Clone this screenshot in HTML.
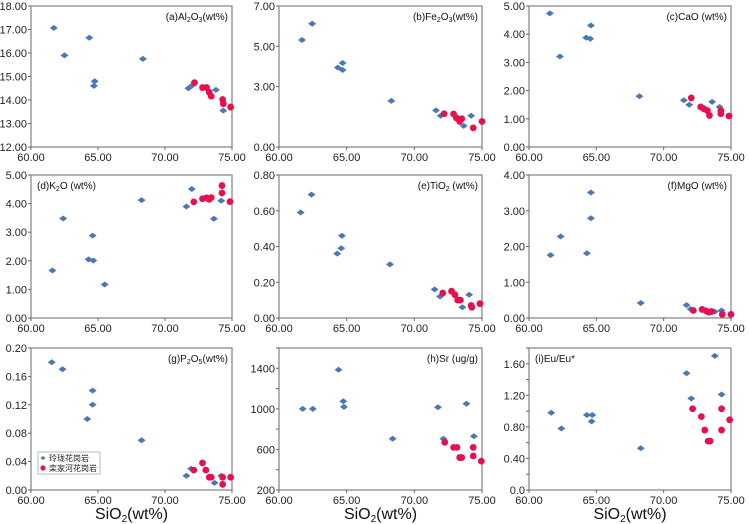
<!DOCTYPE html>
<html><head><meta charset="utf-8">
<style>
html,body{margin:0;padding:0;background:#fff;}
svg{display:block;font-family:"Liberation Sans","Noto Sans CJK SC",sans-serif;}
</style></head>
<body>
<svg id="c" width="749" height="524" viewBox="0 0 749 524" xmlns="http://www.w3.org/2000/svg"></svg>
<script>
const xTicks = [60, 65, 70, 75];
const xTickLabels = ["60.00","65.00","70.00","75.00"];

const aBlue = [[61.7,17.07],[62.5,15.9],[64.35,16.65],[64.75,14.8],[64.7,14.6],[68.35,15.75],[71.75,14.5],[72.05,14.63],[73.8,14.43],[74.35,13.55]];
const aRed = [[72.2,14.74],[72.8,14.53],[73.1,14.53],[73.3,14.33],[73.45,14.16],[74.3,14.02],[74.35,13.84],[74.9,13.7]];
const bBlue = [[61.7,5.31],[62.45,6.12],[64.35,3.94],[64.7,4.17],[64.7,3.82],[68.3,2.29],[71.6,1.82],[71.95,1.55],[73.65,1.05],[74.2,1.55]];
const bRed = [[72.2,1.65],[72.9,1.64],[73.1,1.45],[73.35,1.27],[73.5,1.4],[74.35,0.95],[75.0,1.27]];
const cBlue = [[61.55,4.74],[62.3,3.21],[64.25,3.88],[64.55,3.84],[64.6,4.31],[68.2,1.8],[71.5,1.66],[71.9,1.5],[73.6,1.6],[74.15,1.42]];
const cRed = [[72.05,1.74],[72.75,1.42],[73.0,1.35],[73.25,1.29],[73.4,1.12],[74.25,1.29],[74.25,1.18],[74.85,1.1]];
const dBlue = [[61.6,1.66],[62.4,3.48],[64.3,2.05],[64.65,2.01],[64.6,2.88],[65.5,1.17],[68.25,4.12],[71.6,3.9],[72.0,4.51],[73.65,3.47],[74.2,4.1]];
const dRed = [[72.15,4.06],[72.8,4.17],[73.1,4.2],[73.3,4.15],[73.45,4.21],[74.25,4.63],[74.25,4.37],[74.85,4.07]];
const eBlue = [[61.6,0.59],[62.4,0.69],[64.3,0.36],[64.6,0.39],[64.65,0.46],[68.2,0.3],[71.5,0.16],[71.9,0.12],[73.55,0.06],[74.05,0.13]];
const eRed = [[72.1,0.14],[72.75,0.15],[73.0,0.13],[73.2,0.1],[73.4,0.1],[74.2,0.07],[74.25,0.06],[74.85,0.08]];
const fBlue = [[61.6,1.76],[62.35,2.28],[64.3,1.81],[64.6,3.51],[64.6,2.79],[68.3,0.42],[71.7,0.36],[72.0,0.25],[73.8,0.18],[74.3,0.21]];
const fRed = [[72.2,0.21],[72.85,0.24],[73.15,0.2],[73.35,0.16],[73.55,0.18],[74.35,0.1],[75.0,0.1]];
const gBlue = [[61.55,0.18],[62.35,0.17],[64.2,0.10],[64.6,0.12],[64.6,0.14],[68.25,0.07],[71.6,0.02],[71.95,0.03],[73.7,0.01],[74.2,0.02]];
const gRed = [[72.15,0.028],[72.8,0.038],[73.05,0.028],[73.3,0.018],[73.45,0.018],[74.3,0.018],[74.3,0.008],[74.9,0.018]];
const hBlue = [[61.75,1000],[62.5,1000],[64.4,1385],[64.75,1075],[64.8,1020],[68.4,705],[71.75,1016],[72.15,705],[73.85,1050],[74.4,730]];
const hRed = [[72.25,670],[72.9,620],[73.15,620],[73.35,520],[73.5,520],[74.35,620],[74.35,535],[74.95,485]];
const iBlue = [[61.65,0.98],[62.4,0.78],[64.3,0.95],[64.7,0.95],[64.65,0.87],[68.3,0.53],[71.7,1.48],[72.05,1.16],[73.8,1.70],[74.3,1.21]];
const iRed = [[72.15,1.03],[72.8,0.93],[73.05,0.76],[73.3,0.62],[73.45,0.62],[74.3,1.03],[74.3,0.76],[74.9,0.89]];

const aTicks=[12,13,14,15,16,17,18], aLabels=["12.00","13.00","14.00","15.00","16.00","17.00","18.00"];
const bTicks=[0,3,5,7], bLabels=["0.00","3.00","5.00","7.00"];
const cTicks=[0,1,2,3,4,5], cLabels=["0.00","1.00","2.00","3.00","4.00","5.00"];
const dTicks=[0,1,2,3,4,5], dLabels=["0.00","1.00","2.00","3.00","4.00","5.00"];
const eTicks=[0,0.2,0.4,0.6,0.8], eLabels=["0.00","0.20","0.40","0.60","0.80"];
const fTicks=[0,1,2,3,4], fLabels=["0.00","1.00","2.00","3.00","4.00"];
const gTicks=[0,0.04,0.08,0.12,0.16,0.2], gLabels=["0.00","0.04","0.08","0.12","0.16","0.20"];
const hTicks=[200,400,600,800,1000,1200,1400,1600], hLabels=["200","","600","","1000","","1400",""];
const iTicks=[0,0.2,0.4,0.6,0.8,1.0,1.2,1.4,1.6,1.8], iLabels=["0.0","","0.40","","0.80","","1.20","","1.60",""];

const NS="http://www.w3.org/2000/svg";
const svg=document.getElementById('c');
function mk(tag,attrs,parent){const e=document.createElementNS(NS,tag);for(const k in attrs)e.setAttribute(k,attrs[k]);(parent||svg).appendChild(e);return e;}

const cols=[[31,232],[279,482],[529,731]];
const rows=[[6,147],[175,318],[348,490]];
const panels=[
 {id:'a',blue:aBlue,red:aRed,ymin:12,ymax:18,ticks:aTicks,labels:aLabels,title:'(a)Al<tspan font-size="7" dy="2">2</tspan><tspan dy="-2">O</tspan><tspan font-size="7" dy="2">3</tspan><tspan dy="-2">(wt%)</tspan>',left:false},
 {id:'b',blue:bBlue,red:bRed,ymin:0,ymax:7,ticks:bTicks,labels:bLabels,title:'(b)Fe<tspan font-size="7" dy="2">2</tspan><tspan dy="-2">O</tspan><tspan font-size="7" dy="2">3</tspan><tspan dy="-2">(wt%)</tspan>',left:false},
 {id:'c',blue:cBlue,red:cRed,ymin:0,ymax:5,ticks:cTicks,labels:cLabels,title:'(c)CaO (wt%)',left:false},
 {id:'d',blue:dBlue,red:dRed,ymin:0,ymax:5,ticks:dTicks,labels:dLabels,title:'(d)K<tspan font-size="7" dy="2">2</tspan><tspan dy="-2">O (wt%)</tspan>',left:true},
 {id:'e',blue:eBlue,red:eRed,ymin:0,ymax:0.8,ticks:eTicks,labels:eLabels,title:'(e)TiO<tspan font-size="7" dy="2">2</tspan><tspan dy="-2"> (wt%)</tspan>',left:false},
 {id:'f',blue:fBlue,red:fRed,ymin:0,ymax:4,ticks:fTicks,labels:fLabels,title:'(f)MgO (wt%)',left:false},
 {id:'g',blue:gBlue,red:gRed,ymin:0,ymax:0.2,ticks:gTicks,labels:gLabels,title:'(g)P<tspan font-size="7" dy="2">2</tspan><tspan dy="-2">O</tspan><tspan font-size="7" dy="2">5</tspan><tspan dy="-2">(wt%)</tspan>',left:false},
 {id:'h',blue:hBlue,red:hRed,ymin:200,ymax:1600,ticks:hTicks,labels:hLabels,title:'(h)Sr (ug/g)',left:false},
 {id:'i',blue:iBlue,red:iRed,ymin:0,ymax:1.8,ticks:iTicks,labels:iLabels,title:'(i)Eu/Eu*',left:true}
];

panels.forEach((p,idx)=>{
 const [x0,x1]=cols[idx%3], [y0,y1]=rows[Math.floor(idx/3)];
 const g=mk('g',{});
 
 
 const sx=v=>x0+(v-60)/(75-60)*(x1-x0);
 const sy=v=>y1-(v-p.ymin)/(p.ymax-p.ymin)*(y1-y0);
 const fr=mk('rect',{x:x0,y:y0,width:x1-x0,height:y1-y0,fill:'none',stroke:'#8a8a8a','stroke-width':1.3},g);
 
 
 p.ticks.forEach((t,i)=>{
  const y=sy(t);
  mk('line',{x1:x0-3,x2:x0,y1:y,y2:y,stroke:'#666','stroke-width':1},g);
  if(p.labels[i]){
   const tx=mk('text',{x:x0-4,y:y+4,'text-anchor':'end','font-size':11,fill:'#222'},g);
   tx.textContent=p.labels[i];
   
   
  }
 });
 xTicks.forEach((t,i)=>{
  const x=sx(t);
  mk('line',{x1:x,x2:x,y1:y1,y2:y1+3,stroke:'#666','stroke-width':1},g);
  const tx=mk('text',{x:x,y:y1+14,'text-anchor':'middle','font-size':11,fill:'#222'},g);
  tx.textContent=xTickLabels[i];
  
  
 });
 const tt=mk('text',{x:p.left?x0+6:x1-4,y:y0+14,'text-anchor':p.left?'start':'end','font-size':10,fill:'#111'},g);
 tt.innerHTML=p.title;
 
 
 p.blue.forEach(d=>{
  const x=sx(d[0]),y=sy(d[1]);
  const m=mk('polygon',{points:`${x-4},${y} ${x},${y-3} ${x+4},${y} ${x},${y+3}`,fill:'#4a78b4'},g);
  
  
 });
 p.red.forEach(d=>{
  const m=mk('circle',{cx:sx(d[0]),cy:sy(d[1]),r:3.4,fill:'#e6104f'},g);
  
  
 });
 if(idx>=6){
  const at=mk('text',{x:(x0+x1)/2,y:519,'text-anchor':'middle','font-size':16,fill:'#111'},g);
  at.innerHTML='SiO<tspan font-size="10" dy="3">2</tspan><tspan dy="-3">(wt%)</tspan>';
  
  
 }
});

// legend in panel g
const lg=mk('g',{});


mk('rect',{x:38,y:452,width:62,height:22,fill:'#fff',stroke:'#aaa','stroke-width':0.8},lg);
mk('polygon',{points:'40.5,458 43,456 45.5,458 43,460',fill:'#4a78b4'},lg);
mk('circle',{cx:43,cy:468,r:2.6,fill:'#e6104f'},lg);
const l1=mk('text',{x:49,y:461,'font-size':8,fill:'#222'},lg);
l1.textContent='玲珑花岗岩';


const l2=mk('text',{x:49,y:471,'font-size':8,fill:'#222'},lg);
l2.textContent='栾家河花岗岩';


</script>
</body></html>
